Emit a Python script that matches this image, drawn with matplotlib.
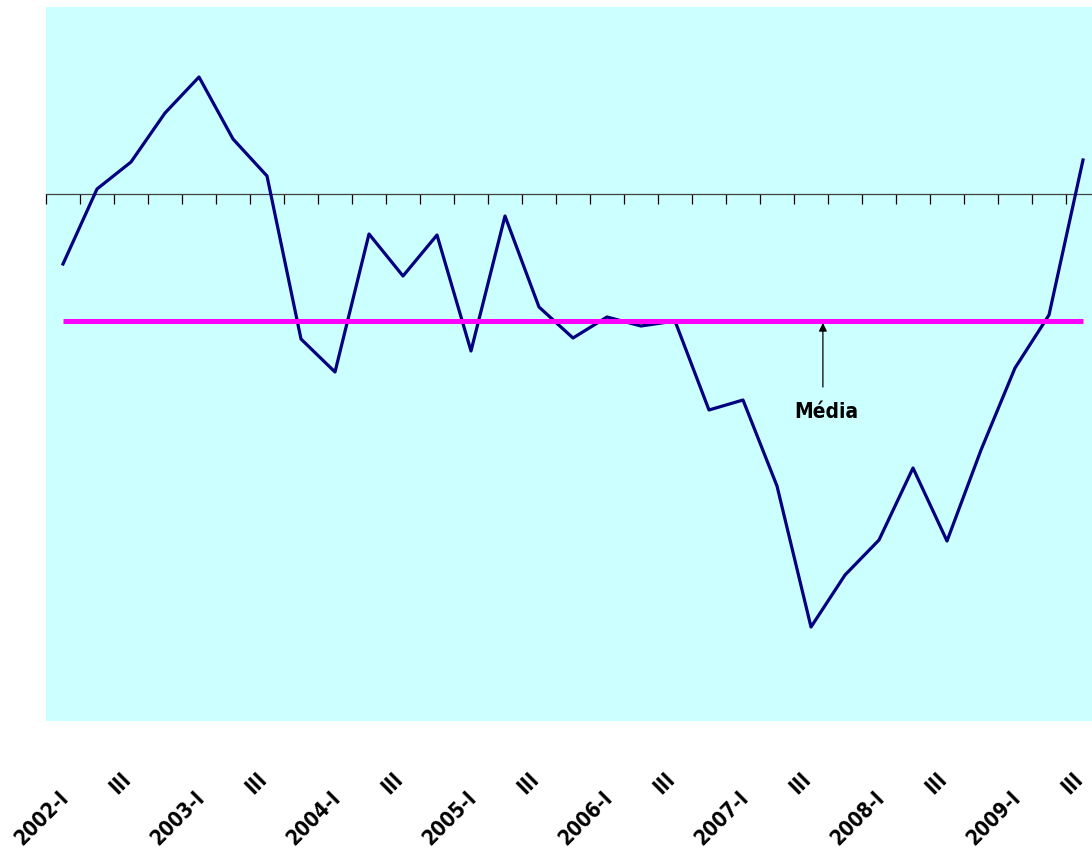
import numpy as np
import matplotlib.pyplot as plt

# quarterly series, 2002-I .. 2009-III (arbitrary units)
quarters = ["I", "II", "III", "IV"]
years = list(range(2002, 2010))
values = [-1.40, 0.10, 0.64, 1.62, 2.34, 1.10, 0.36, -2.90, -3.56, -0.80,
          -1.64, -0.82, -3.14, -0.44, -2.26, -2.88, -2.46, -2.64, -2.54, -4.32,
          -4.12, -5.84, -8.66, -7.62, -6.92, -5.48, -6.94, -5.12, -3.48, -2.42,
          0.68]
media = -2.54
media_label = "Média"

labels = []
for y in years:
    for q in quarters:
        labels.append(f"{y}-{q}" if q == "I" else q)
labels = labels[:len(values)]

W, H = 1092, 854
fig = plt.figure(figsize=(W / 100, H / 100), dpi=100)
plt.rcParams['font.family'] = ['DejaVu Sans']
plt.rcParams['font.stretch'] = 'condensed'

# plot area: left 46px, top 8px, bottom 722px, 34px per category
n = len(values)
ax = fig.add_axes([46 / W, (H - 722) / H, n * 34 / W, 714 / H])
ax.set_facecolor('#ccffff')
x = np.arange(1, n + 1)

ax.plot(x, values, color='#000080', lw=2.3, zorder=3)
ax.plot([x[0], x[-1]], [media, media], color='#ff00ff', lw=3.6, zorder=4,
        solid_capstyle='butt')

ax.set_xlim(0.5, n + 0.5)
ax.set_ylim(-10.54, 3.74)

for s in ['top', 'right', 'left']:
    ax.spines[s].set_visible(False)
ax.spines['bottom'].set_position(('data', 0))
ax.spines['bottom'].set_color('#404040')
ax.spines['bottom'].set_linewidth(0.9)
ax.spines['bottom'].set_zorder(2)
ax.set_yticks([])
ax.set_xticks(np.arange(0.5, n + 0.6, 1.0))
ax.tick_params(axis='x', direction='out', length=7, width=0.9, color='black',
               labelbottom=False)

# rotated category labels below the plot area (offsets in pixels)
for i, lab in enumerate(labels):
    if i % 2 == 0:
        if "-" in lab:
            dx, ypx = 3, 794
        else:
            dx, ypx = -3, 776
        ax.text(x[i] + dx / 34, (722 - ypx) / 714, lab,
                transform=ax.get_xaxis_transform(),
                rotation=45, rotation_mode='anchor', ha='right', va='center',
                fontsize=15, fontweight='bold', clip_on=False)

# "Média" annotation with arrow
ax.annotate("", xy=(23.35, media - 0.04), xytext=(23.35, -3.86),
            arrowprops=dict(arrowstyle='-|>', color='black', lw=0.9,
                            mutation_scale=12, shrinkA=0, shrinkB=0))
ax.text(23.45, -4.35, media_label, ha='center', va='center', fontsize=15,
        fontweight='bold')

fig.savefig('out.png', dpi=100)
